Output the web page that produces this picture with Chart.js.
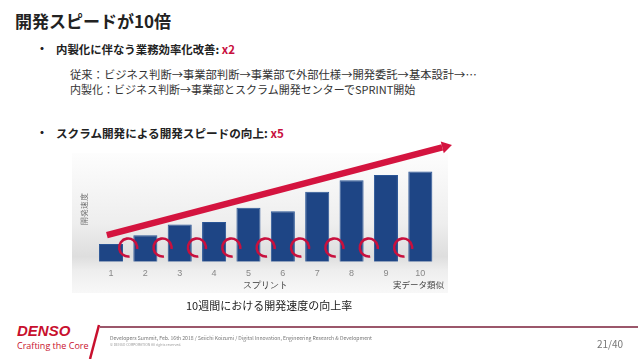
<!DOCTYPE html>
<html lang="ja">
<head>
<meta charset="utf-8">
<script src="https://cdn.jsdelivr.net/npm/chart.js@4"></script>
<style>
  body { margin: 0; width: 638px; height: 359px; background: #fff; position: relative; overflow: hidden;
         font-family: "Noto Sans CJK JP", "Noto Sans", sans-serif; color: #222; }
  .t { position: absolute; white-space: nowrap; }
  .red { color: #c8103e; }
  #panel { position: absolute; left: 72px; top: 153px; width: 376px; height: 140px;
           background: linear-gradient(to bottom, #fdfdfd 0%, #eeeeee 50%, #dedede 74%, #eeeeee 84%, #f8f8f8 100%); }
  #wrap { position: absolute; left: 72px; top: 138px; width: 390px; height: 157px; }
</style>
</head>
<body>
<div class="t" style="left:15px; top:8px; font-size:17px; font-weight:bold;">開発スピードが10倍</div>

<div class="t" style="left:36px; top:40px; font-size:12px; font-weight:bold;">・</div>
<div class="t" style="left:56px; top:41px; font-size:11.4px; font-weight:bold;">内製化に伴なう業務効率化改善: <span class="red">x2</span></div>
<div class="t" style="left:70px; top:66px; font-size:11.3px; color:#333;">従来：ビジネス判断→事業部判断→事業部で外部仕様→開発委託→基本設計→…</div>
<div class="t" style="left:70px; top:81px; font-size:11px; color:#333;">内製化：ビジネス判断→事業部とスクラム開発センターでSPRINT開始</div>

<div class="t" style="left:36px; top:124px; font-size:12px; font-weight:bold;">・</div>
<div class="t" style="left:56px; top:125px; font-size:11.6px; font-weight:bold;">スクラム開発による開発スピードの向上: <span class="red">x5</span></div>

<div id="panel"></div>
<div id="wrap"><canvas id="speedChart"></canvas></div>
<div class="t" style="left:393px; top:278px; font-size:8.5px; color:#444;">実データ類似</div>

<div class="t" style="left:186px; top:297px; font-size:11px; color:#222;">10週間における開発速度の向上率</div>

<!-- footer -->
<div class="t" style="left:17px; top:322px; font-size:15px; font-weight:bold; font-style:italic; color:#c8102e; font-family:'Liberation Sans', sans-serif;">DENSO</div>
<div class="t" style="left:17px; top:339px; font-size:9px; color:#c8102e; font-family:'Open Sans', sans-serif;">Crafting the Core</div>
<svg style="position:absolute; left:0; top:0;" width="638" height="359">
  <line x1="99" y1="325" x2="90" y2="359" stroke="#c8102e" stroke-width="2.5"/>
  <line x1="100" y1="327" x2="638" y2="327" stroke="#7a1f3a" stroke-width="1.3"/>
</svg>
<div class="t" style="left:110px; top:334px; font-size:5.1px; color:#777;">Developers Summit, Feb. 16th 2018 / Seiichi Koizumi / Digital Innovation, Engineering Research &amp; Development</div>
<div class="t" style="left:110px; top:342px; font-size:3.5px; color:#999;">© DENSO CORPORATION All rights reserved.</div>
<div class="t" style="left:597px; top:336px; font-size:10px; color:#777;">21/40</div>

<script>
// スプリントごとの開発速度（スプリント1を1とした相対値、図から読み取り）
const sprints = ['1', '2', '3', '4', '5', '6', '7', '8', '9', '10'];
const speed = [1.0, 1.5, 2.1, 2.25, 3.05, 2.85, 3.95, 4.6, 4.9, 5.1];

// 赤い矢印（始点・終点、x はスプリントの位置）
const trendX = [-0.12, 9.92];
const trendY = [1.5, 6.6];

// スプリント間のループ（赤い円弧）
const loopX = [0.5, 1.5, 2.5, 3.5, 4.5, 5.5, 6.5, 7.5, 8.5];
const loopY = [0.8, 0.8, 0.8, 0.8, 0.8, 0.8, 0.8, 0.8, 0.8];

const overlay = {
    id: 'overlay',
    afterDatasetsDraw(chart) {
        const ctx = chart.ctx;
        const xs = chart.scales.x, ys = chart.scales.y;

        // ループ
        ctx.save();
        ctx.strokeStyle = '#c8103e';
        ctx.lineWidth = 2.6;
        loopX.forEach((v, i) => {
            const cx = xs.getPixelForValue(v);
            const cy = ys.getPixelForValue(loopY[i]);
            ctx.beginPath();
            ctx.arc(cx, cy, 9, Math.PI * 0.45, Math.PI * 2.05);
            ctx.stroke();
        });
        ctx.restore();

        // 矢印
        const x1 = xs.getPixelForValue(trendX[0]), y1 = ys.getPixelForValue(trendY[0]);
        const x2 = xs.getPixelForValue(trendX[1]), y2 = ys.getPixelForValue(trendY[1]);
        const ang = Math.atan2(y2 - y1, x2 - x1);
        const head = 10;
        ctx.save();
        ctx.strokeStyle = '#d4143f';
        ctx.fillStyle = '#d4143f';
        ctx.lineWidth = 6.5;
        ctx.beginPath();
        ctx.moveTo(x1, y1);
        ctx.lineTo(x2 - head * Math.cos(ang), y2 - head * Math.sin(ang));
        ctx.stroke();
        ctx.beginPath();
        ctx.moveTo(x2, y2);
        ctx.lineTo(x2 - head * Math.cos(ang) + 6 * Math.sin(ang), y2 - head * Math.sin(ang) - 6 * Math.cos(ang));
        ctx.lineTo(x2 - head * Math.cos(ang) - 6 * Math.sin(ang), y2 - head * Math.sin(ang) + 6 * Math.cos(ang));
        ctx.closePath();
        ctx.fill();
        ctx.restore();
    }
};

new Chart(document.getElementById('speedChart'), {
    type: 'bar',
    data: {
        labels: sprints,
        datasets: [{
            label: '開発速度',
            data: speed,
            backgroundColor: '#1e4585',
            borderColor: '#2a5596',
            borderWidth: 1,
            categoryPercentage: 1.0,
            barPercentage: 0.7
        }]
    },
    options: {
        responsive: true,
        maintainAspectRatio: false,
        animation: false,
        layout: { padding: { left: 6, right: 24.5, top: 17.5, bottom: 0 } },
        plugins: { legend: { display: false }, tooltip: { enabled: false } },
        scales: {
            x: {
                grid: { display: false, drawTicks: false },
                border: { display: false },
                ticks: { color: '#888', font: { size: 9 }, padding: 6 },
                title: { display: true, text: 'スプリント', color: '#333', font: { size: 9 }, padding: { top: 2, bottom: 4 } },
                afterFit(s) { s.height = 33.3; }
            },
            y: {
                min: 0, max: 6,
                grid: { display: false, drawTicks: false },
                border: { display: false },
                ticks: { display: false },
                title: { display: true, text: '開発速度', color: '#666', font: { size: 8 }, padding: 2 },
                afterFit(s) { s.width = 15.8; }
            }
        }
    },
    plugins: [overlay]
});
</script>
</body>
</html>
